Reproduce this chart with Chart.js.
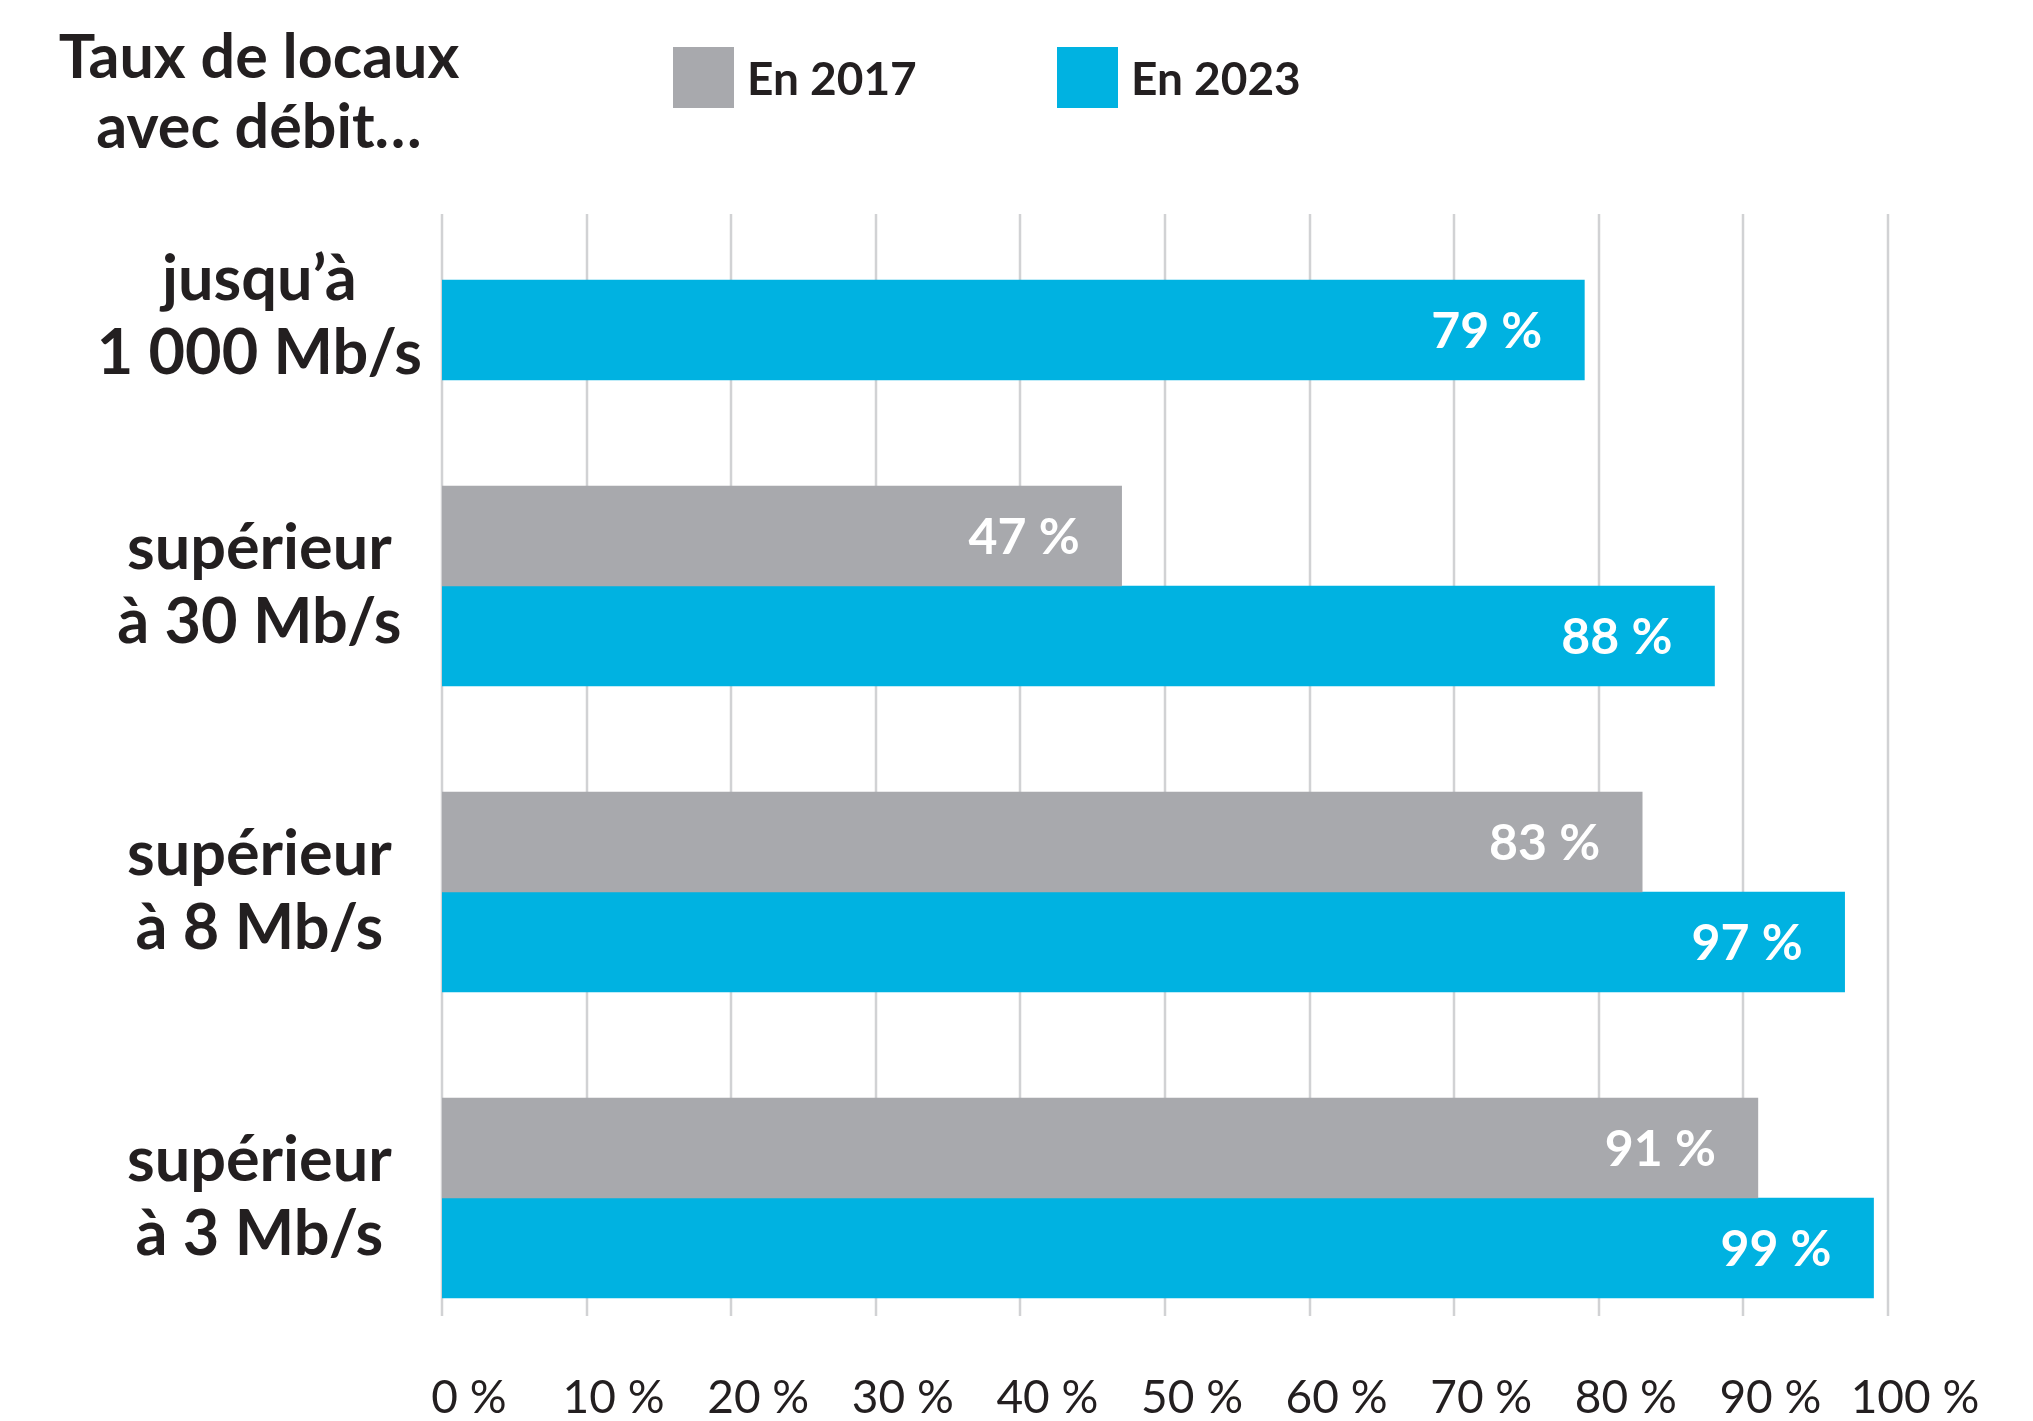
<!DOCTYPE html>
<html><head><meta charset="utf-8">
<script src="https://cdn.jsdelivr.net/npm/chart.js@4/dist/chart.umd.min.js"></script>
<style>html,body{margin:0;padding:0;background:#fff;overflow:hidden}#wrap{width:2033px;height:1421px;position:relative}</style>
</head><body><div id="wrap"><canvas id="c"></canvas></div>
<script>
const titleLines = ['Taux de locaux', 'avec débit…'];
const categories = [['', 'jusqu’à', '1 000 Mb/s'], ['supérieur', 'à 30 Mb/s'], ['supérieur', 'à 8 Mb/s'], ['supérieur', 'à 3 Mb/s']];
const seriesNames = ['En 2017', 'En 2023'];
const values2017 = [null, 47, 83, 91];
const values2023 = [79, 88, 97, 99];
const tickLabels = ['0 %', '10 %', '20 %', '30 %', '40 %', '50 %', '60 %', '70 %', '80 %', '90 %', '100 %'];

const GRAY = '#a8a9ad';
const BLUE = '#00b2e1';
const INK = '#231f20';
const FONT = 'Lato, "Open Sans", sans-serif';

const decor = {
  id: 'decor',
  beforeDatasetsDraw(chart) {
    const ctx = chart.ctx, xs = chart.scales.x, area = chart.chartArea;
    ctx.save();
    ctx.strokeStyle = '#d1d2d4';
    ctx.lineWidth = 2.5;
    xs.ticks.forEach(t => {
      const x = Math.round(xs.getPixelForValue(t.value));
      ctx.beginPath();
      ctx.moveTo(x, area.top + 87);
      ctx.lineTo(x, area.bottom - 35);
      ctx.stroke();
    });
    ctx.restore();
  },
  afterDatasetsDraw(chart) {
    const ctx = chart.ctx;
    ctx.save();
    ctx.fillStyle = '#ffffff';
    ctx.font = 'bold 50px ' + FONT;
    ctx.textAlign = 'right';
    ctx.textBaseline = 'middle';
    chart.data.datasets.forEach((ds, di) => {
      const meta = chart.getDatasetMeta(di);
      meta.data.forEach((el, i) => {
        const v = ds.data[i];
        if (v === null || v === undefined) return;
        ctx.fillText(v + ' %', el.x - 42, el.y + 2);
      });
    });
    // title
    ctx.fillStyle = INK;
    ctx.textAlign = 'center';
    ctx.textBaseline = 'alphabetic';
    ctx.font = 'bold 61px ' + FONT;
    ctx.fillText(titleLines[0], 259, 78);
    ctx.fillText(titleLines[1], 259, 148);
    // legend
    const boxes = [673, 1057];
    chart.data.datasets.forEach((ds, di) => {
      ctx.fillStyle = ds.backgroundColor;
      ctx.fillRect(boxes[di], 47, 61, 61);
      ctx.fillStyle = INK;
      ctx.textAlign = 'left';
      ctx.font = 'bold 46px ' + FONT;
      ctx.fillText(ds.label, boxes[di] + 74, 95);
    });
    ctx.restore();
  }
};

new Chart(document.getElementById('c'), {
  type: 'bar',
  data: {
    labels: categories,
    datasets: [
      { label: seriesNames[0], data: values2017, backgroundColor: GRAY, barThickness: 100 },
      { label: seriesNames[1], data: values2023, backgroundColor: BLUE, barThickness: 100 }
    ]
  },
  options: {
    indexAxis: 'y',
    responsive: true,
    maintainAspectRatio: false,
    animation: false,
    devicePixelRatio: 1,
    layout: { padding: { top: 127, right: 145, left: 0, bottom: 0 } },
    plugins: { legend: { display: false }, title: { display: false }, tooltip: { enabled: false } },
    scales: {
      x: {
        min: 0, max: 100,
        grid: { display: false, drawTicks: false },
        border: { display: false },
        ticks: {
          stepSize: 10,
          padding: 20,
          labelOffset: 27,
          color: INK,
          font: { family: FONT, size: 46 },
          callback: (v, i) => tickLabels[i]
        },
        afterFit: s => { s.height = 70; s.paddingLeft = 0; s.paddingRight = 0; }
      },
      y: {
        grid: { display: false, drawTicks: false },
        border: { display: false },
        ticks: {
          crossAlign: 'center',
          padding: 20,
          color: INK,
          font: { family: FONT, size: 63, weight: 'bold', lineHeight: 1.175 }
        },
        afterFit: s => { s.width = 442; s.paddingTop = 0; s.paddingBottom = 0; }
      }
    }
  },
  plugins: [decor]
});
</script>
</body></html>
